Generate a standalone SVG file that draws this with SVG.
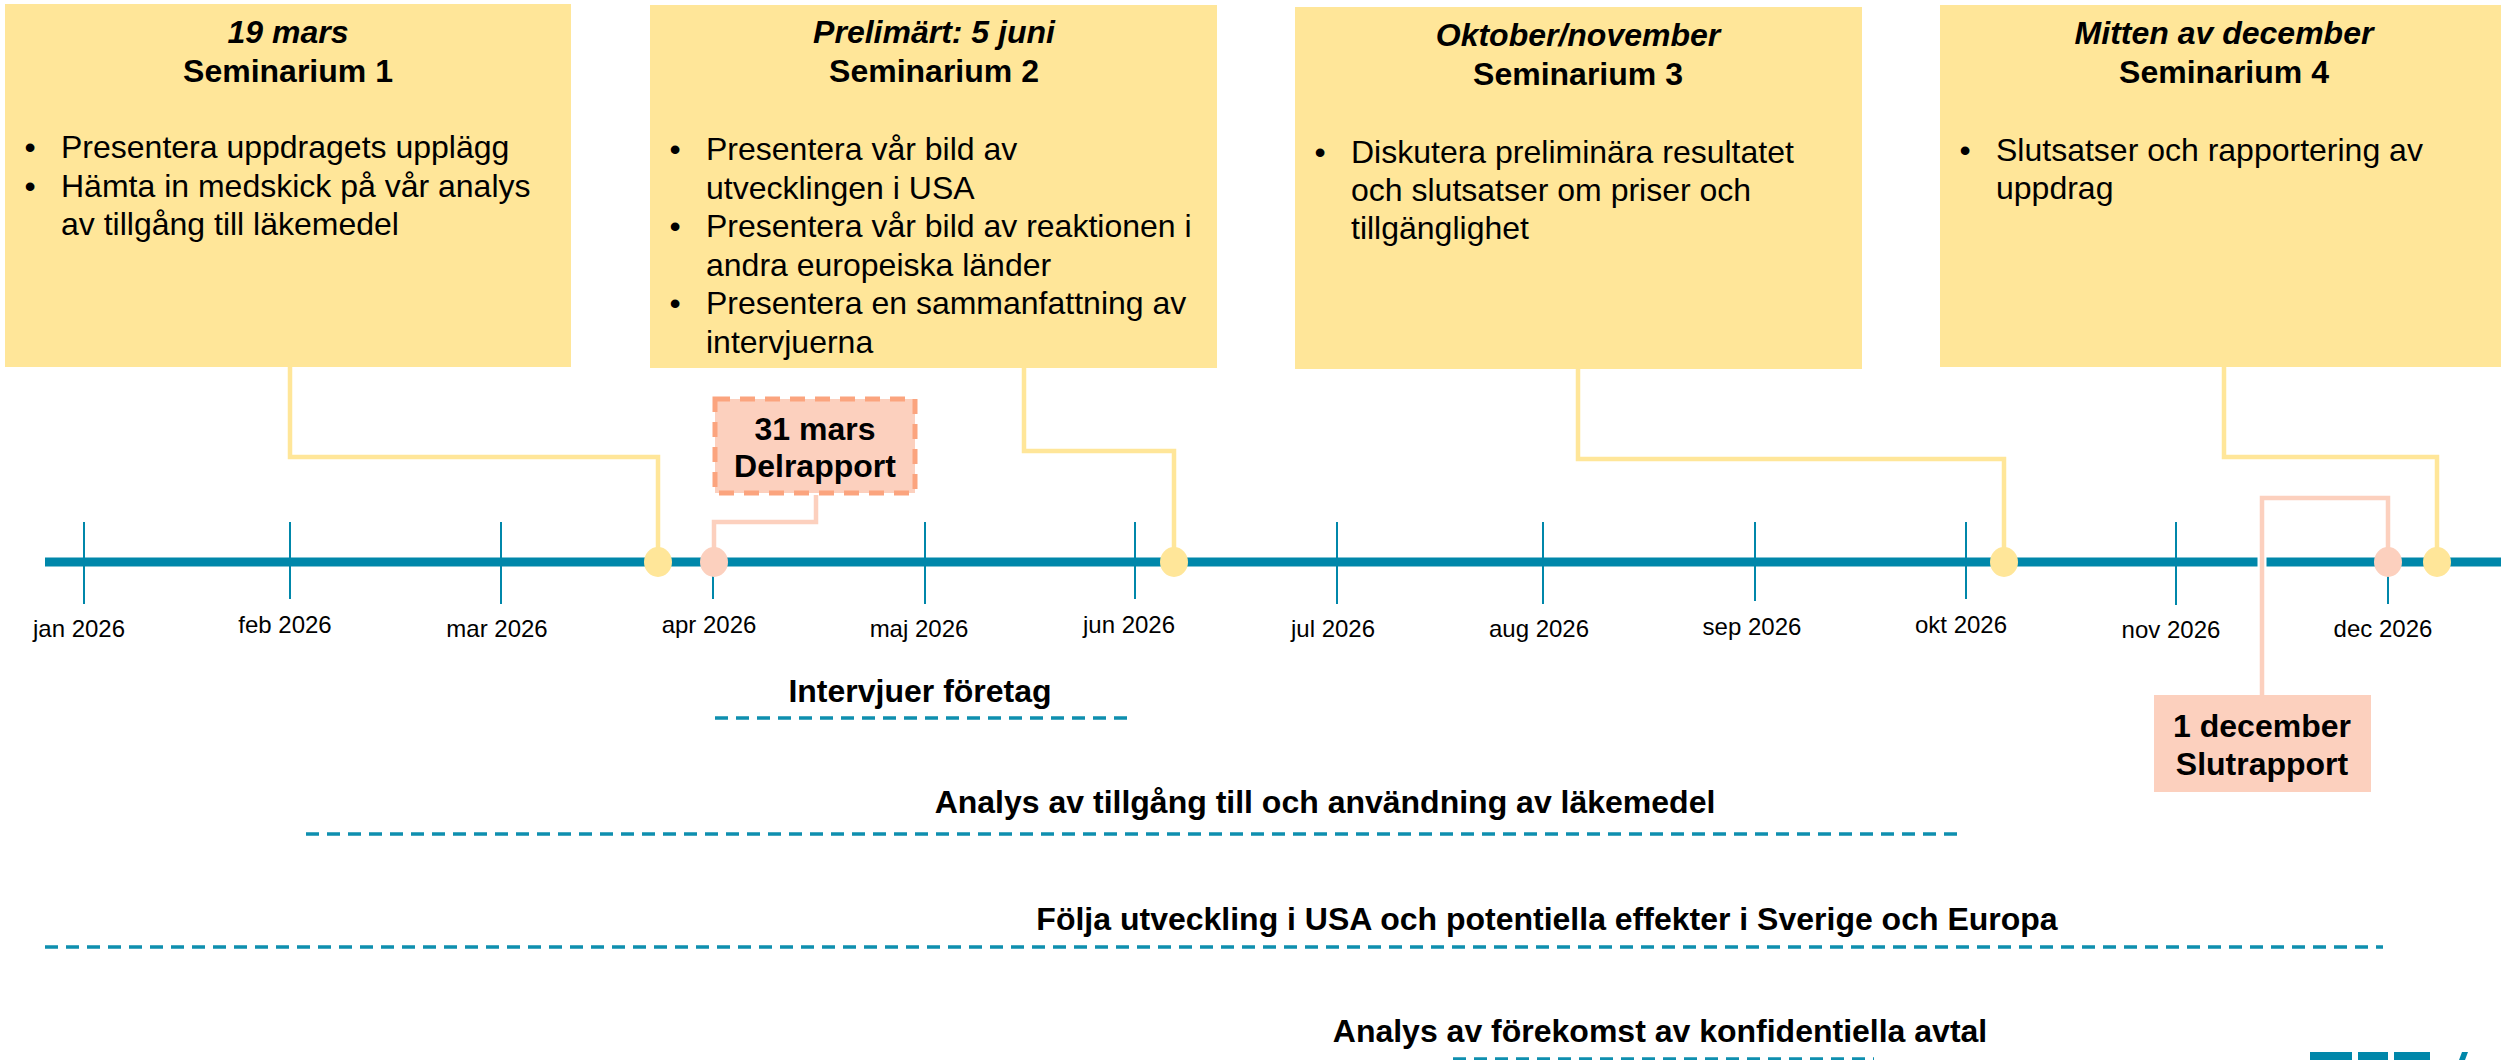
<svg xmlns="http://www.w3.org/2000/svg" width="2501" height="1060" viewBox="0 0 2501 1060">
<style>
text{font-family:"Liberation Sans",Arial,sans-serif;fill:#000}
.h{font-size:32px;font-weight:bold;text-anchor:middle}
.hi{font-size:32px;font-weight:bold;font-style:italic;text-anchor:middle}
.b{font-size:32px}
.dot{font-size:32px;text-anchor:middle}
.lbl{font-size:24px;text-anchor:middle}
.box{fill:#FFE699}
.ms{fill:#FCD0BE}
.yc{fill:none;stroke:#FFE699;stroke-width:4.5;stroke-linejoin:miter}
.pc{fill:none;stroke:#FCD0BE;stroke-width:4.5}
.tick{stroke:#0087AA;stroke-width:2}
.dash{stroke:#0E8FAF;stroke-width:3.5;stroke-dasharray:13 8}
</style>
<rect width="2501" height="1060" fill="#fff"/>

<g id="seminarium1">
<rect class="box" x="5" y="4" width="566" height="363"/>
<text class="hi" x="288" y="43">19 mars</text>
<text class="h" x="288" y="82">Seminarium 1</text>
<text class="dot" x="30" y="158">•</text>
<text class="b" x="61" y="158">Presentera uppdragets upplägg</text>
<text class="dot" x="30" y="197">•</text>
<text class="b" x="61" y="197">Hämta in medskick på vår analys</text>
<text class="b" x="61" y="235">av tillgång till läkemedel</text>
</g>

<g id="seminarium2">
<rect class="box" x="650" y="5" width="567" height="363"/>
<text class="hi" x="934" y="43">Prelimärt: 5 juni</text>
<text class="h" x="934" y="82">Seminarium 2</text>
<text class="dot" x="675" y="160">•</text>
<text class="b" x="706" y="160">Presentera vår bild av</text>
<text class="b" x="706" y="199">utvecklingen i USA</text>
<text class="dot" x="675" y="237">•</text>
<text class="b" x="706" y="237">Presentera vår bild av reaktionen i</text>
<text class="b" x="706" y="276">andra europeiska länder</text>
<text class="dot" x="675" y="314">•</text>
<text class="b" x="706" y="314">Presentera en sammanfattning av</text>
<text class="b" x="706" y="353">intervjuerna</text>
</g>

<g id="seminarium3">
<rect class="box" x="1295" y="7" width="567" height="362"/>
<text class="hi" x="1578" y="46">Oktober/november</text>
<text class="h" x="1578" y="85">Seminarium 3</text>
<text class="dot" x="1320" y="163">•</text>
<text class="b" x="1351" y="163">Diskutera preliminära resultatet</text>
<text class="b" x="1351" y="201">och slutsatser om priser och</text>
<text class="b" x="1351" y="239">tillgänglighet</text>
</g>

<g id="seminarium4">
<rect class="box" x="1940" y="5" width="568" height="362"/>
<text class="hi" x="2224" y="44">Mitten av december</text>
<text class="h" x="2224" y="83">Seminarium 4</text>
<text class="dot" x="1965" y="161">•</text>
<text class="b" x="1996" y="161">Slutsatser och rapportering av</text>
<text class="b" x="1996" y="199">uppdrag</text>
</g>

<g id="timeline">
<line x1="45" y1="562" x2="2501" y2="562" stroke="#0087AA" stroke-width="9"/>
<line class="tick" x1="84" y1="522" x2="84" y2="604"/>
<line class="tick" x1="290" y1="522" x2="290" y2="599"/>
<line class="tick" x1="501" y1="522" x2="501" y2="604"/>
<line class="tick" x1="713" y1="522" x2="713" y2="599"/>
<line class="tick" x1="925" y1="522" x2="925" y2="604"/>
<line class="tick" x1="1135" y1="522" x2="1135" y2="599"/>
<line class="tick" x1="1337" y1="522" x2="1337" y2="604"/>
<line class="tick" x1="1543" y1="522" x2="1543" y2="604"/>
<line class="tick" x1="1755" y1="522" x2="1755" y2="601"/>
<line class="tick" x1="1966" y1="522" x2="1966" y2="599"/>
<line class="tick" x1="2176" y1="522" x2="2176" y2="605"/>
<line class="tick" x1="2388" y1="522" x2="2388" y2="604"/>
<text class="lbl" x="79" y="637">jan 2026</text>
<text class="lbl" x="285" y="633">feb 2026</text>
<text class="lbl" x="497" y="637">mar 2026</text>
<text class="lbl" x="709" y="633">apr 2026</text>
<text class="lbl" x="919" y="637">maj 2026</text>
<text class="lbl" x="1129" y="633">jun 2026</text>
<text class="lbl" x="1333" y="637">jul 2026</text>
<text class="lbl" x="1539" y="637">aug 2026</text>
<text class="lbl" x="1752" y="635">sep 2026</text>
<text class="lbl" x="1961" y="633">okt 2026</text>
<text class="lbl" x="2171" y="638">nov 2026</text>
<text class="lbl" x="2383" y="637">dec 2026</text>
</g>

<g id="connectors">
<path class="yc" d="M290 367 V457 H658 V550"/>
<path class="yc" d="M1024 368 V451 H1174 V550"/>
<path class="yc" d="M1578 369 V459 H2004 V550"/>
<path class="yc" d="M2224 367 V457 H2437 V550"/>
<path class="pc" d="M816 495 V522 H714 V550"/>
<line x1="2262" y1="553" x2="2262" y2="571" stroke="#fff" stroke-width="9"/>
<path class="pc" d="M2262 695 V498 H2388 V550"/>
</g>

<g id="markers">
<ellipse cx="658" cy="562" rx="14" ry="15" fill="#FFE699"/>
<ellipse cx="714" cy="562" rx="14" ry="15" fill="#FCD0BE"/>
<ellipse cx="1174" cy="562" rx="14" ry="15" fill="#FFE699"/>
<ellipse cx="2004" cy="562" rx="14" ry="15" fill="#FFE699"/>
<ellipse cx="2388" cy="562" rx="14" ry="15" fill="#FCD0BE"/>
<ellipse cx="2437" cy="562" rx="14" ry="15" fill="#FFE699"/>
</g>

<g id="delrapport">
<rect class="ms" x="715" y="399" width="200" height="94" stroke="#FBA47E" stroke-width="5" stroke-dasharray="15 10"/>
<text class="h" x="815" y="440">31 mars</text>
<text class="h" x="815" y="477">Delrapport</text>
</g>

<g id="slutrapport">
<rect class="ms" x="2154" y="695" width="217" height="97"/>
<text class="h" x="2262" y="737">1 december</text>
<text class="h" x="2262" y="775">Slutrapport</text>
</g>

<g id="activities">
<text class="h" x="920" y="702">Intervjuer företag</text>
<line class="dash" x1="715" y1="718" x2="1134" y2="718"/>
<text class="h" x="1325" y="813">Analys av tillgång till och användning av läkemedel</text>
<line class="dash" x1="306" y1="834" x2="1962" y2="834"/>
<text class="h" x="1547" y="930">Följa utveckling i USA och potentiella effekter i Sverige och Europa</text>
<line class="dash" x1="45" y1="947" x2="2383" y2="947"/>
<text class="h" x="1660" y="1042">Analys av förekomst av konfidentiella avtal</text>
<line class="dash" x1="1453" y1="1059" x2="1874" y2="1059"/>
</g>

<g id="logo" fill="#0087AA">
<rect x="2310" y="1052" width="42" height="8"/>
<rect x="2358" y="1052" width="30" height="8"/>
<rect x="2394" y="1052" width="36" height="8"/>
<polygon points="2462,1052 2468,1052 2465,1060 2459,1060"/>
</g>
</svg>
